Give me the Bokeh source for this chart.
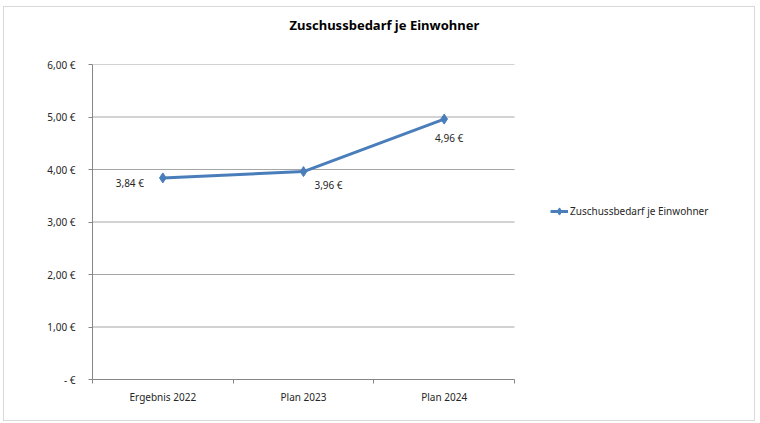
from bokeh.plotting import figure
from bokeh.models import FixedTicker, Legend, LegendItem, ColumnDataSource, Range1d, Title
from bokeh.core.properties import value
from bokeh.embed import file_html
from bokeh.resources import INLINE

categories = ["Ergebnis 2022", "Plan 2023", "Plan 2024"]
values = [3.84, 3.96, 4.96]
value_labels = ["3,84 €", "3,96 €", "4,96 €"]
y_ticks = [0, 1, 2, 3, 4, 5, 6]
y_tick_labels = ["- €", "1,00 €", "2,00 €", "3,00 €", "4,00 €", "5,00 €", "6,00 €"]
series_name = "Zuschussbedarf je Einwohner"
title_text = "Zuschussbedarf je Einwohner"

# label offsets (style, in screen px)
label_dx = [-33, 25, 5]
label_dy = [5, 13, 19]

FONT = "Noto Sans"
BLUE = "#4A7EBB"
GRID = "#a6a6a6"
AXIS = "#868686"

n = len(categories)
# frame spans the legend area too; the category axis occupies 422 of 664 px
x_end = n * 664 / 422

xs = [i + 0.5 for i in range(n)]
src = ColumnDataSource(dict(x=xs, y=values, lab=value_labels, dx=label_dx, dy=label_dy))

p = figure(width=752, height=415, output_backend="svg", toolbar_location=None,
           x_range=Range1d(0, x_end), y_range=Range1d(0, 6),
           min_border_left=88, min_border_right=0, min_border_top=57, min_border_bottom=43)
p.styles = {"border": "1px solid #d9d9d9", "margin-left": "3px", "margin-top": "6px"}
p.outline_line_color = None
p.background_fill_color = "white"
p.border_fill_color = "white"

p.title.text = title_text
p.title.align = "left"
p.title.offset = 197
p.title.text_font = FONT
p.title.text_font_size = "13px"
p.title.text_font_style = "bold"
p.title.text_color = "black"
p.title.standoff = 11

# spacer between title and plot area
p.add_layout(Title(text=" ", text_font_size="2px", standoff=21), "above")

# y axis
p.yaxis.ticker = FixedTicker(ticks=y_ticks)
p.yaxis.major_label_overrides = {t: l for t, l in zip(y_ticks, y_tick_labels)}
p.yaxis.axis_line_color = AXIS
p.yaxis.major_tick_line_color = AXIS
p.yaxis.major_tick_out = 4
p.yaxis.major_tick_in = 0
p.yaxis.minor_tick_line_color = None
p.yaxis.major_label_standoff = 13
p.yaxis.major_label_text_font = FONT
p.yaxis.major_label_text_font_size = "10px"
p.yaxis.major_label_text_color = "#262626"

# x axis
p.xaxis.bounds = (0, n)
p.xaxis.ticker = FixedTicker(ticks=xs, minor_ticks=list(range(n + 1)))
p.xaxis.major_label_overrides = {x: c for x, c in zip(xs, categories)}
p.xaxis.axis_line_color = AXIS
p.xaxis.major_tick_line_color = None
p.xaxis.major_tick_out = 0
p.xaxis.major_tick_in = 0
p.xaxis.minor_tick_line_color = AXIS
p.xaxis.minor_tick_out = 4
p.xaxis.minor_tick_in = 0
p.xaxis.major_label_standoff = 6
p.xaxis.major_label_text_font = FONT
p.xaxis.major_label_text_font_size = "10px"
p.xaxis.major_label_text_color = "#262626"

p.xgrid.grid_line_color = None
p.ygrid.grid_line_color = None
# horizontal gridlines limited to the category area
grid_y = y_ticks[1:]
p.segment(x0=[0] * len(grid_y), x1=[n] * len(grid_y), y0=grid_y, y1=grid_y,
          line_color=GRID, line_width=1)

ln = p.line("x", "y", source=src, line_color=BLUE, line_width=3)
sc = p.scatter("x", "y", source=src, marker="diamond", size=10, fill_color=BLUE, line_color=BLUE)

p.text("x", "y", text="lab", source=src, x_offset="dx", y_offset="dy",
       text_font=value(FONT), text_font_size="10px", text_color="#262626",
       text_align="center", text_baseline="middle")

legend = Legend(items=[LegendItem(label=series_name, renderers=[ln, sc])],
                location=(458, 158), background_fill_alpha=0, border_line_color=None,
                label_text_font=FONT, label_text_font_size="10px", label_text_color="#262626",
                glyph_width=18, label_standoff=2, padding=0, margin=0)
p.add_layout(legend, "center")

open("out.html", "w").write(file_html(p, INLINE))
